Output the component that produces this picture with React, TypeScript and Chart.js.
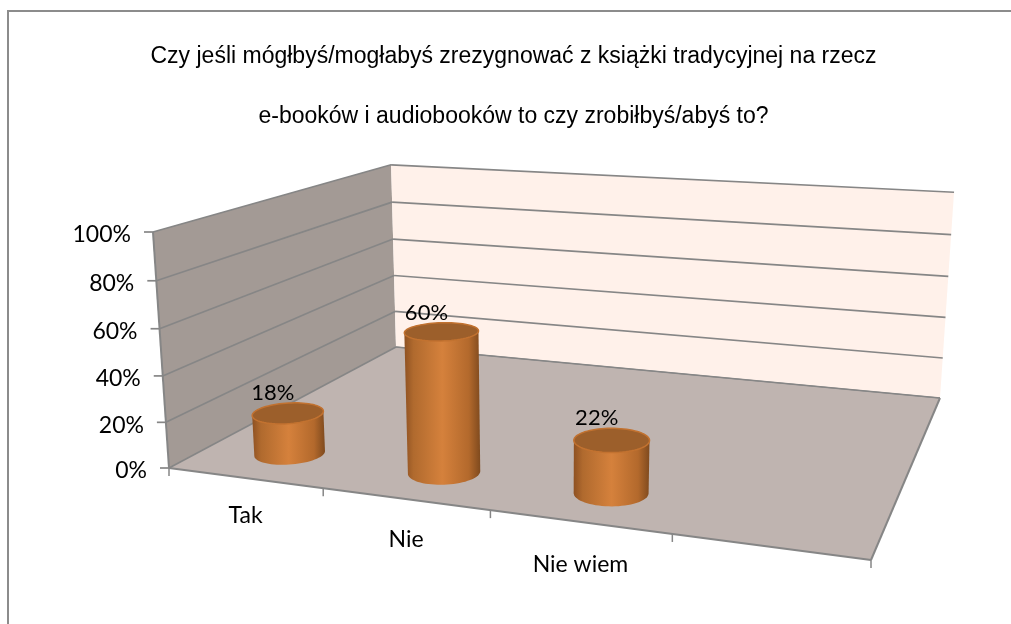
import React, { useEffect, useRef } from "react";
import { Chart, registerables } from "chart.js";

Chart.register(...registerables);

const categories = ["Tak", "Nie", "Nie wiem", ""];
const values = [18, 60, 22, null];
const valueLabels = ["18%", "60%", "22%", ""];
const titleLines = [
  "Czy jeśli mógłbyś/mogłabyś zrezygnować z książki tradycyjnej na rzecz",
  "e-booków i audiobooków to czy zrobiłbyś/abyś to?",
];

// Perspective set-up of the 3D box (screen positions of the floor corners)
const FL = [169, 468];
const FR = [871, 560];
const BR = [940, 398];
const BL = [396, 347];
const VANISH = [551, 6098];
const TOP_FL_Y = 232;
const DEPTH_MID = 0.16;
const RADIUS_U = 0.051;
const RADIUS_W = 0.072;
const SHIFT_U = 0.0045;

function floorMatrix() {
  const [x0, y0] = FL, [x1, y1] = FR, [x2, y2] = BR, [x3, y3] = BL;
  const dx1 = x1 - x2, dx2 = x3 - x2, sx = x0 - x1 + x2 - x3;
  const dy1 = y1 - y2, dy2 = y3 - y2, sy = y0 - y1 + y2 - y3;
  const den = dx1 * dy2 - dx2 * dy1;
  const g = (sx * dy2 - dx2 * sy) / den;
  const h = (dx1 * sy - sx * dy1) / den;
  return {
    cu: [x1 - x0 + g * x1, y1 - y0 + g * y1, g],
    cw: [x3 - x0 + h * x3, y3 - y0 + h * y3, h],
    c0: [x0, y0, 1],
  };
}
const M = floorMatrix();
const K = -(FL[1] - TOP_FL_Y) / (VANISH[1] - TOP_FL_Y);

function project(u: number, w: number, h: number): [number, number] {
  const X = M.cu[0] * u + M.cw[0] * w + M.c0[0] + K * VANISH[0] * h;
  const Y = M.cu[1] * u + M.cw[1] * w + M.c0[1] + K * VANISH[1] * h;
  const Z = M.cu[2] * u + M.cw[2] * w + M.c0[2] + K * h;
  return [X / Z, Y / Z];
}

function poly(ctx: CanvasRenderingContext2D, pts: number[][]) {
  ctx.beginPath();
  pts.forEach((p, i) => (i ? ctx.lineTo(p[0], p[1]) : ctx.moveTo(p[0], p[1])));
  ctx.closePath();
}
function seg(ctx: CanvasRenderingContext2D, a: number[], b: number[]) {
  ctx.beginPath();
  ctx.moveTo(a[0], a[1]);
  ctx.lineTo(b[0], b[1]);
  ctx.stroke();
}
function hull(points: number[][]) {
  const p = [...points].sort((a, b) => a[0] - b[0] || a[1] - b[1]);
  const cross = (o: number[], a: number[], b: number[]) =>
    (a[0] - o[0]) * (b[1] - o[1]) - (a[1] - o[1]) * (b[0] - o[0]);
  const lo: number[][] = [], up: number[][] = [];
  for (const q of p) {
    while (lo.length > 1 && cross(lo[lo.length - 2], lo[lo.length - 1], q) <= 0) lo.pop();
    lo.push(q);
  }
  for (const q of [...p].reverse()) {
    while (up.length > 1 && cross(up[up.length - 2], up[up.length - 1], q) <= 0) up.pop();
    up.push(q);
  }
  return lo.slice(0, -1).concat(up.slice(0, -1));
}

const frame3d = {
  id: "frame3d",
  beforeDatasetsDraw(chart: any) {
    const { ctx, scales } = chart;
    const yS = scales.y;
    const xS = scales.x;
    const area = chart.chartArea;
    const frac = (v: number) => (area.bottom - yS.getPixelForValue(v)) / area.height;
    ctx.save();
    // chart frame
    ctx.strokeStyle = "#8c8c8c";
    ctx.lineWidth = 2;
    ctx.beginPath();
    ctx.moveTo(8, 624);
    ctx.lineTo(8, 11);
    ctx.lineTo(1011, 11);
    ctx.stroke();
    // left wall
    ctx.fillStyle = "#a39a95";
    poly(ctx, [project(0, 0, 0), project(0, 1, 0), project(0, 1, 1), project(0, 0, 1)]);
    ctx.fill();
    // back wall
    ctx.fillStyle = "#fff1ea";
    poly(ctx, [project(0, 1, 0), project(1, 1, 0), project(1, 1, 1), project(0, 1, 1)]);
    ctx.fill();
    // floor
    ctx.fillStyle = "#bfb4b0";
    poly(ctx, [project(0, 0, 0), project(1, 0, 0), project(1, 1, 0), project(0, 1, 0)]);
    ctx.fill();
    // grid lines and ticks
    ctx.strokeStyle = "#868686";
    ctx.lineWidth = 1.7;
    ctx.font = "23px Lato";
    ctx.fillStyle = "#000";
    ctx.textAlign = "right";
    ctx.textBaseline = "middle";
    yS.ticks.forEach((t: any) => {
      const h = frac(t.value);
      const a = project(0, 0, h), b = project(0, 1, h), c = project(1, 1, h);
      seg(ctx, a, b);
      seg(ctx, b, c);
      seg(ctx, a, [a[0] - 9, a[1]]);
      ctx.fillText(t.label, a[0] - 22, a[1] + 3);
    });
    // wall/floor edges
    ctx.lineWidth = 2;
    seg(ctx, project(0, 0, 0), project(0, 0, 1));
    seg(ctx, project(0, 0, 0), project(1, 0, 0));
    seg(ctx, project(1, 0, 0), project(1, 1, 0));
    ctx.lineWidth = 1;
    seg(ctx, project(0, 1, 0), project(1, 1, 0));
    // category ticks and labels
    ctx.lineWidth = 1.5;
    ctx.textAlign = "center";
    const n = categories.length;
    for (let i = 0; i <= n; i++) {
      const a = project(i / n, 0, 0);
      seg(ctx, a, [a[0], a[1] + 8]);
    }
    xS.ticks.forEach((t: any, i: number) => {
      const u = (xS.getPixelForTick(i) - area.left) / area.width;
      const a = project(u, 0, 0);
      ctx.fillText(categories[i], a[0] + 1, a[1] + 38 + i * 2.5);
    });
    ctx.restore();
  },
  afterDatasetsDraw(chart: any) {
    const { ctx } = chart;
    const area = chart.chartArea;
    const meta = chart.getDatasetMeta(0);
    ctx.save();
    meta.data.forEach((el: any, i: number) => {
      if (values[i] == null) return;
      const u = (el.x - area.left) / area.width + SHIFT_U;
      const h = (el.base - el.y) / area.height;
      const circ = (hh: number) => {
        const r: number[][] = [];
        for (let k = 0; k < 72; k++) {
          const t = (k / 72) * Math.PI * 2;
          r.push(project(u + RADIUS_U * Math.cos(t), DEPTH_MID + RADIUS_W * Math.sin(t), hh));
        }
        return r;
      };
      const bot = circ(0), top = circ(h);
      const all = bot.concat(top);
      const xs = all.map((p) => p[0]);
      const x0 = Math.min(...xs), x1 = Math.max(...xs);
      const g = ctx.createLinearGradient(x0, 0, x1, 0);
      g.addColorStop(0, "#8e5122");
      g.addColorStop(0.12, "#b06a2e");
      g.addColorStop(0.5, "#d5813c");
      g.addColorStop(0.85, "#b3692c");
      g.addColorStop(1, "#7f4a1e");
      ctx.fillStyle = g;
      poly(ctx, hull(all));
      ctx.fill();
      poly(ctx, top);
      ctx.fillStyle = "#9c5f2b";
      ctx.fill();
      ctx.strokeStyle = "#c27230";
      ctx.lineWidth = 1.5;
      ctx.stroke();
      const topY = Math.min(...top.map((p) => p[1]));
      const cx = top.reduce((s, p) => s + p[0], 0) / top.length;
      ctx.fillStyle = "#000";
      ctx.font = "22px Lato";
      ctx.textAlign = "center";
      ctx.textBaseline = "alphabetic";
      ctx.fillText(valueLabels[i], cx - 15, topY - 3);
    });
    ctx.restore();
  },
};

export default function App() {
  const ref = useRef<HTMLCanvasElement>(null);
  useEffect(() => {
    document.body.style.margin = "0";
    const chart = new Chart(ref.current!, {
      type: "bar",
      data: {
        labels: categories,
        datasets: [{ data: values, backgroundColor: "rgba(0,0,0,0)", borderWidth: 0 }],
      },
      options: {
        responsive: false,
        animation: false,
        layout: { padding: { left: 16, top: 27, right: 0, bottom: 20 } },
        scales: {
          x: { display: false, grid: { display: false } },
          y: {
            display: false,
            min: 0,
            max: 100,
            ticks: { stepSize: 20, callback: (v: any) => v + "%" },
          },
        },
        plugins: {
          legend: { display: false },
          tooltip: { enabled: false },
          title: {
            display: true,
            text: titleLines,
            color: "#000",
            font: { family: "Liberation Sans", size: 23, weight: "normal", lineHeight: 2.6 },
            padding: 0,
          },
        },
      },
      plugins: [frame3d],
    } as any);
    return () => chart.destroy();
  }, []);
  return (
    <div style={{ width: 1011, height: 624, background: "#fff" }}>
      <canvas ref={ref} width={1011} height={624} style={{ display: "block" }} />
    </div>
  );
}
